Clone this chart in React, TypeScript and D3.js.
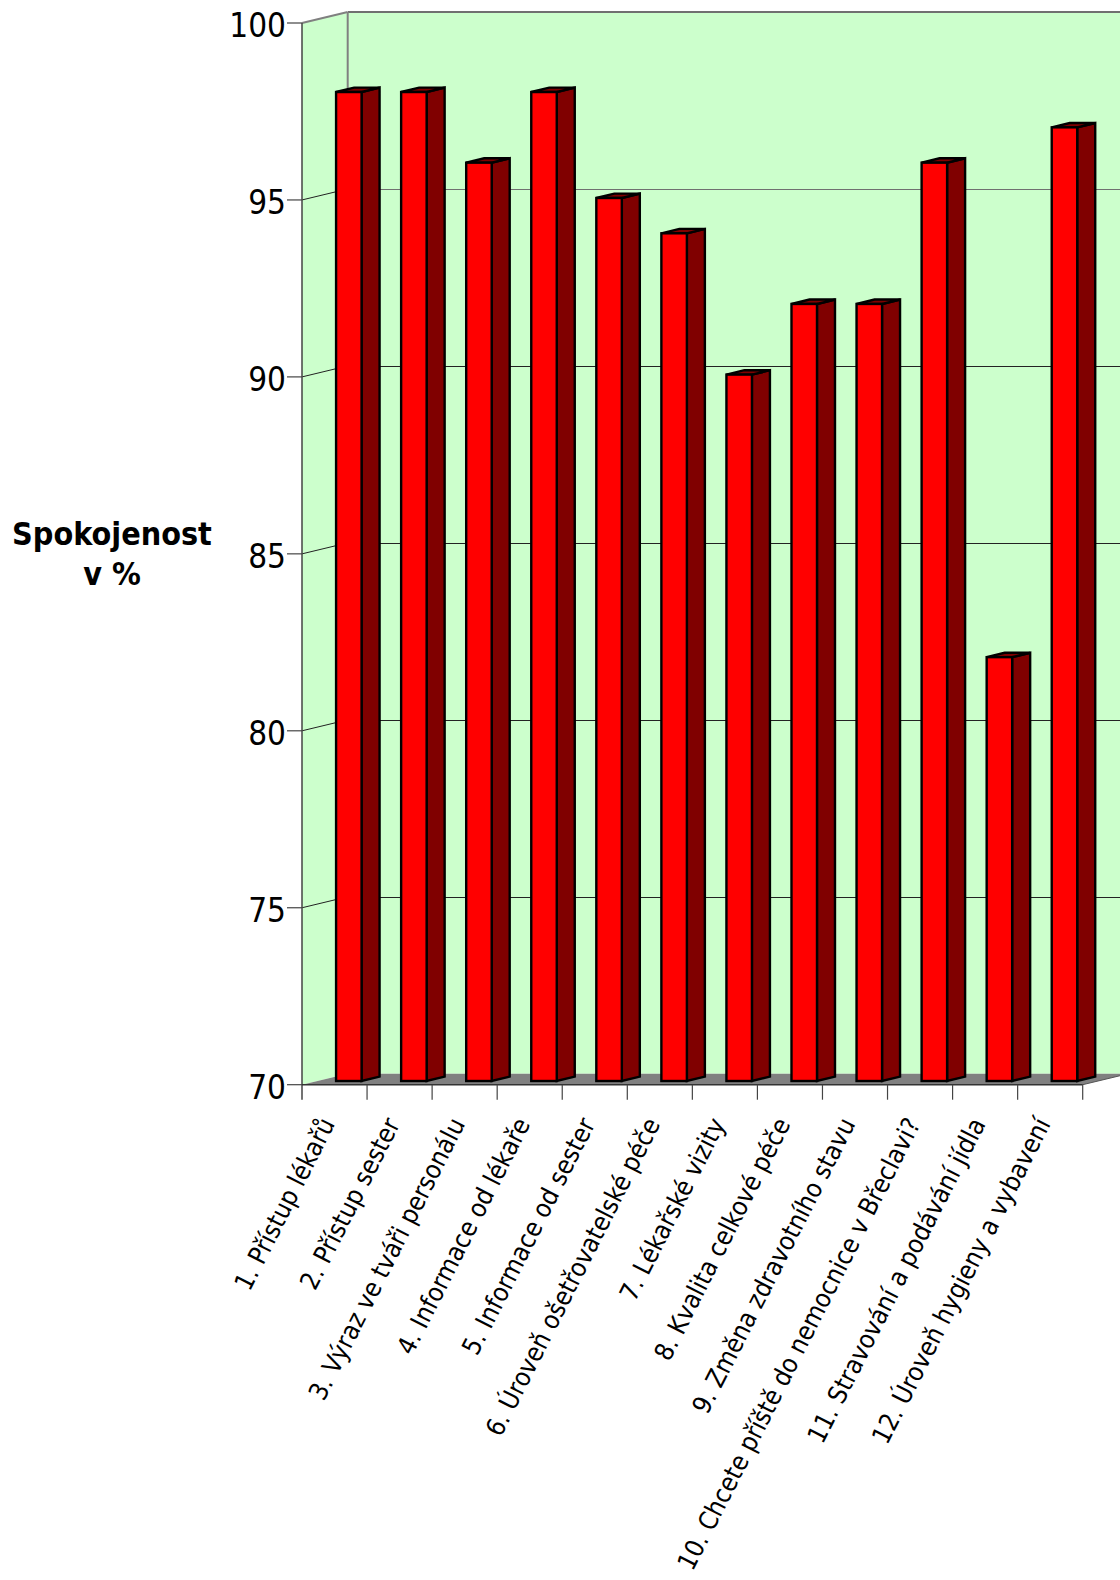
import React from "react";
import * as d3 from "d3";

const categories = [
  "1. Přístup lékařů",
  "2. Přístup sester",
  "3. Výraz ve tváři personálu",
  "4. Informace od lékaře",
  "5. Informace od sester",
  "6. Úroveň ošetřovatelské péče",
  "7. Lékařské vizity",
  "8. Kvalita celkové péče",
  "9. Změna zdravotního stavu",
  "10. Chcete příště do nemocnice v Břeclavi?",
  "11. Stravování a podávání jídla",
  "12. Úroveň hygieny a vybavení",
];
const satisfaction = [98, 98, 96, 98, 95, 94, 90, 92, 92, 96, 82, 97];
const yTicks = [70, 75, 80, 85, 90, 95, 100];
const yTitle = ["Spokojenost", "v %"];

const W = 1120, H = 1580;
const FONT = "'DejaVu Sans Condensed', 'DejaVu Sans', sans-serif";
const left = 302, right = 1082.7, bottom = 1084.7, top = 23;
const wallDx = 45.7, wallDy = 11;
const barW = 25.5, barDx = 18, barDy = 4.4, barOffX = 14.3;

export default function App() {
  const x = d3.scaleBand<string>().domain(categories).range([left, right]);
  const y = d3.scaleLinear().domain([70, 100]).range([bottom, top]);
  const yBar = d3.scaleLinear().domain([70, 100]).range([1081, 21.4]);
  const bw = x.bandwidth();
  const pts = (a: number[][]) => a.map((p) => p.join(",")).join(" ");
  return (
    <svg width={W} height={H} viewBox={`0 0 ${W} ${H}`} style={{ position: "absolute", left: 0, top: 0, background: "#fff" }} fontFamily={FONT} fontStretch="condensed">
      <rect x={left + wallDx} y={top - wallDy} width={W} height={bottom - top} fill="#ccffcc" />
      <polygon points={pts([[left, top], [left + wallDx, top - wallDy], [left + wallDx, bottom - wallDy], [left, bottom]])} fill="#ccffcc" />
      <polygon points={pts([[left, bottom], [left + wallDx, bottom - wallDy], [W + 10, bottom - wallDy], [right + wallDx, bottom - wallDy], [right, bottom]])} fill="#808080" />
      {yTicks.slice(1).map((t) => (
        <g key={t}>
          <line x1={left + wallDx} x2={W} y1={y(t) - wallDy + 0.4} y2={y(t) - wallDy + 0.4} stroke={t >= 95 ? "#707070" : "#222"} strokeWidth={t === 100 ? 2 : 1} shapeRendering="crispEdges" />
          <line x1={left} x2={left + wallDx} y1={y(t)} y2={y(t) - wallDy} stroke={t === 100 ? "#808080" : "#222"} strokeWidth={t === 100 ? 2 : 1} />
        </g>
      ))}
      <line x1={left + wallDx} x2={left + wallDx} y1={top - wallDy} y2={bottom - wallDy} stroke="#808080" strokeWidth={2} />
      <line x1={right} x2={right + wallDx} y1={bottom} y2={bottom - wallDy} stroke="#555" strokeWidth={1} />
      {categories.map((c, i) => {
        const v = satisfaction[i];
        const x0 = x(c)! + (bw - barW) / 2 + barOffX;
        const x1 = x0 + barW;
        const yb = yBar(70);
        const yt = yBar(v);
        return (
          <g key={c} stroke="#000" strokeWidth={2.4} strokeLinejoin="miter">
            <polygon points={pts([[x1, yt], [x1 + barDx, yt - barDy], [x1 + barDx, yb - barDy], [x1, yb]])} fill="#800000" />
            <polygon points={pts([[x0, yt], [x0 + barDx, yt - barDy], [x1 + barDx, yt - barDy], [x1, yt]])} fill="#800000" />
            <rect x={x0} y={yt} width={barW} height={yb - yt} fill="#ff0000" />
          </g>
        );
      })}
      <line x1={left} x2={left} y1={top} y2={bottom + 15} stroke="#444" strokeWidth={1.5} />
      <line x1={left} x2={right} y1={bottom} y2={bottom} stroke="#333" strokeWidth={1.5} />
      {yTicks.map((t) => (
        <g key={t}>
          <line x1={left - 15} x2={left} y1={y(t)} y2={y(t)} stroke="#444" strokeWidth={1.2} />
          <text x={286} y={y(t) + 14} textAnchor="end" fontSize={33} fill="#000">{t}</text>
        </g>
      ))}
      {categories.map((c) => {
        const tx = x(c)! + bw;
        return <line key={c} x1={tx} x2={tx} y1={bottom} y2={bottom + 15} stroke="#444" strokeWidth={1.2} />;
      })}
      {categories.map((c) => {
        const cx = x(c)! + bw / 2 + 1;
        return (
          <text key={c} transform={`translate(${cx},${bottom + 39}) rotate(-63)`} textAnchor="end" fontSize={25.8} fill="#000">{c}</text>
        );
      })}
      {yTitle.map((t, i) => (
        <text key={t} x={112} y={545 + i * 40} textAnchor="middle" fontSize={32} fontWeight="bold" fill="#000">{t}</text>
      ))}
    </svg>
  );
}
